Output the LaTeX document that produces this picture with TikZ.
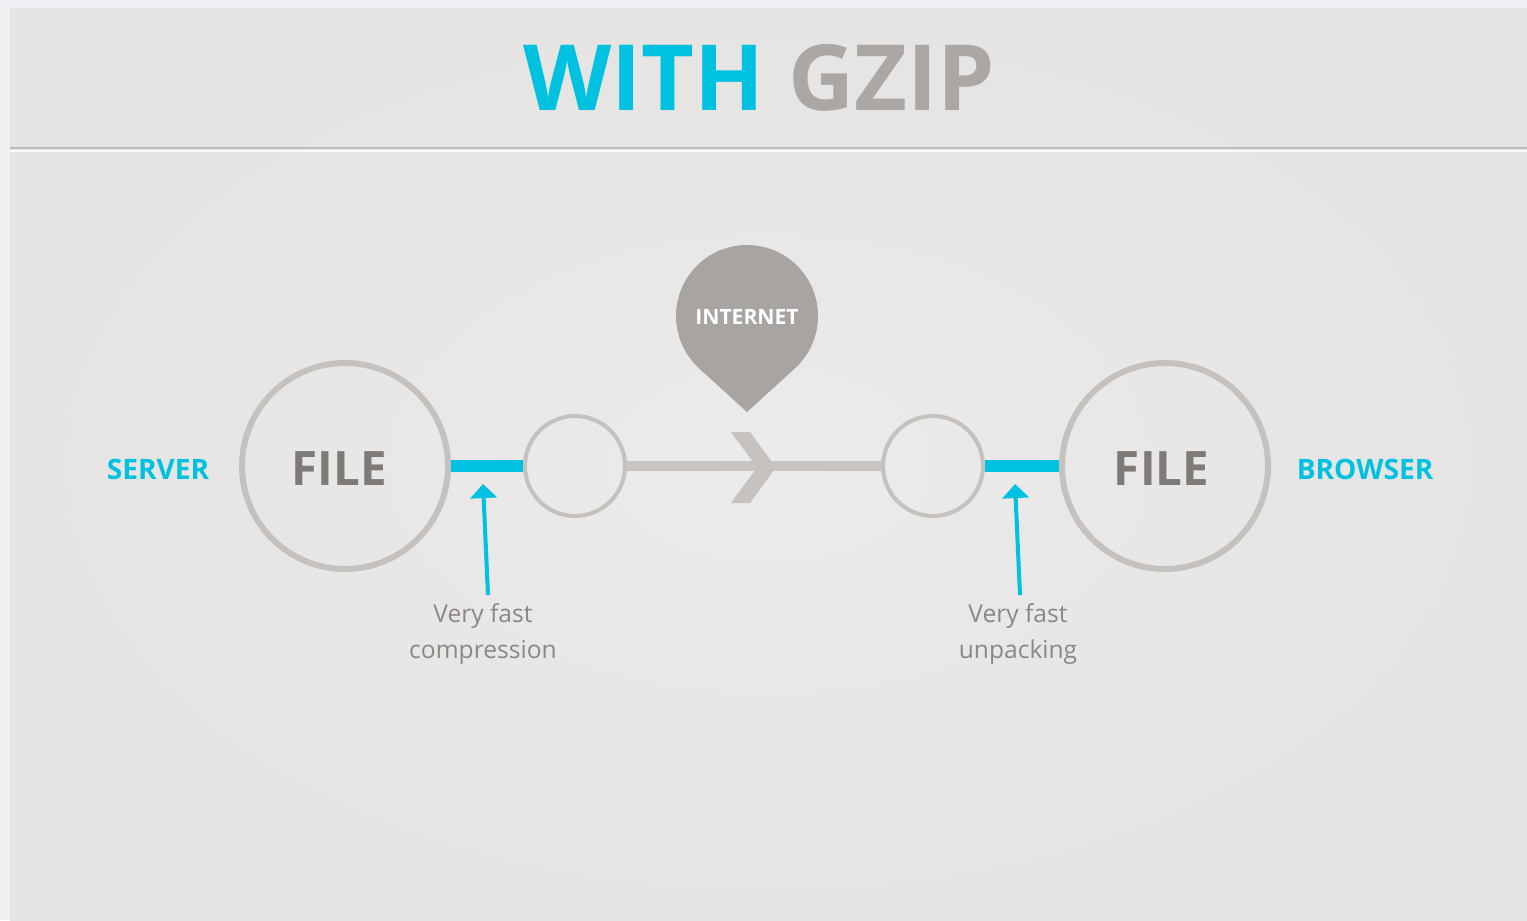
\documentclass[tikz,border=0pt]{standalone}
\usepackage{fontspec}
\setmainfont{Open Sans}
\usetikzlibrary{arrows.meta,calc}
\definecolor{gzcyan}{RGB}{0,194,224}
\definecolor{gzgray}{RGB}{171,167,165}
\definecolor{ringgray}{RGB}{196,193,190}
\definecolor{filegray}{RGB}{125,122,120}
\definecolor{textgray}{RGB}{138,135,133}
\definecolor{pingray}{RGB}{168,164,162}
\definecolor{linegray}{RGB}{200,197,194}
\definecolor{chevgray}{RGB}{198,194,191}
\definecolor{outerbg}{RGB}{238,240,244}
\definecolor{cardbg}{RGB}{233,231,229}
\definecolor{cardlight}{RGB}{237,235,233}
\definecolor{cardedge}{RGB}{230,228,226}
\definecolor{rulegray}{RGB}{190,187,185}
\tikzset{
  bigring/.style={circle,draw=ringgray,line width=3.4pt,minimum size=206*0.02cm,inner sep=0pt},
  filetext/.style={inner sep=0pt,font=\fontsize{27}{30}\selectfont\bfseries,text=filegray},
  smallring/.style={circle,draw=ringgray,line width=2.3pt,minimum size=100*0.02cm,inner sep=0pt},
  sidelabel/.style={font=\fontsize{16}{18}\selectfont\bfseries,text=gzcyan,inner sep=0pt},
  notelabel/.style={font=\fontsize{14}{21}\selectfont,text=textgray,align=center,inner sep=0pt},
  cyanbar/.style={draw=gzcyan,line width=7pt},
  greyline/.style={draw=linegray,line width=5.5pt},
  cyanarrow/.style={draw=gzcyan,line width=2.3pt,-{Triangle[width=15pt,length=8pt]}},
}
\begin{document}
\begin{tikzpicture}[x=0.02cm,y=-0.02cm]
\useasboundingbox (0,0) rectangle (1527,920);
% background
\fill[outerbg] (0,0) rectangle (1527,920);
\shade[inner color=cardlight,outer color=cardedge] (10,8) rectangle (1527,920);
\draw[rulegray,line width=1.2pt] (10,148) -- (1527,148);
\draw[white!80!cardbg,line width=0.8pt] (10,151) -- (1527,151);
% title
\node[inner sep=0pt,font=\fontsize{52}{56}\selectfont\bfseries] (title) at (759,78)
  {\textcolor{gzcyan}{WITH} \textcolor{gzgray}{GZIP}};
% circles
\node[bigring] (fileL) at (345,466) {};
\node[bigring] (fileR) at (1165,466) {};
\node[filetext] (fileLtxt) at (339.5,469) {FILE};
\node[filetext] (fileRtxt) at (1161.5,469) {FILE};
\node[smallring] (cL) at (575,466) {};
\node[smallring] (cR) at (933,466) {};
% connectors
\draw[greyline] (cL.east) -- (cR.west);
\path[fill=chevgray] (731,432) -- (750,432) -- (776,467.5) -- (750,503) -- (731,503) -- (757,467.5) -- cycle;
\draw[cyanbar] (fileL.east) -- (cL.west);
\draw[cyanbar] (cR.east) -- (fileR.west);
% side labels
\node[sidelabel] (server) at (158,469) {SERVER};
\node[sidelabel] (browser) at (1365,469) {BROWSER};
% internet pin
\path[fill=pingray] (747,412) -- ($(747,316)+(47.7:71)$) arc[start angle=47.7,end angle=-227.7,radius=71] -- cycle;
\node[inner sep=0pt,font=\fontsize{12}{14}\selectfont\bfseries,text=white] (internet) at (747,317) {INTERNET};
% notes
\node[notelabel] (noteL) at (483,634) {Very fast\\compression};
\node[notelabel] (noteR) at (1018,634) {Very fast\\unpacking};
\coordinate (aLs) at (488,595);
\coordinate (aLe) at (483,484);
\coordinate (aRs) at (1020,595);
\coordinate (aRe) at (1015,484);
\draw[cyanarrow] (aLs) -- (aLe);
\draw[cyanarrow] (aRs) -- (aRe);
\end{tikzpicture}
\end{document}
